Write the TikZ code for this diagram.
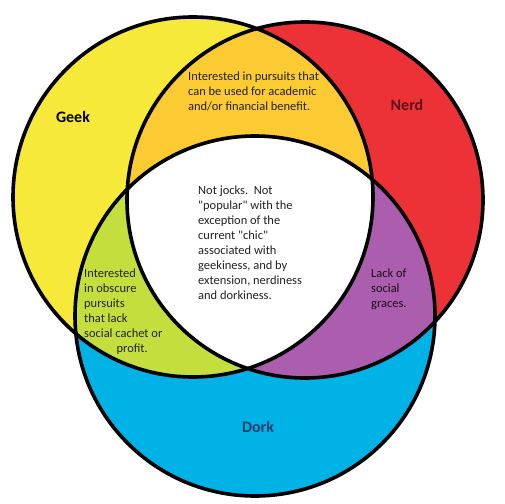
\documentclass[tikz,border=0pt]{standalone}
\usepackage{fontspec}
\setmainfont{Carlito}[Ligatures=TeXOff]
\usetikzlibrary{positioning}
\definecolor{geekfill}{HTML}{F6E93A}
\definecolor{nerdfill}{HTML}{EC3237}
\definecolor{dorkfill}{HTML}{00B2E6}
\definecolor{gnfill}{HTML}{FCCB34}
\definecolor{gdfill}{HTML}{C4DE3E}
\definecolor{ndfill}{HTML}{AB5EAE}
\definecolor{inktext}{HTML}{222222}
\definecolor{nerdink}{HTML}{5E1414}
\definecolor{dorkink}{HTML}{12406E}

\begin{document}
\begin{tikzpicture}[x=1bp, y=-1bp, font=\fontsize{12.5}{15}\selectfont,
  blurb/.style={anchor=north west, align=left, inner sep=0pt, text=inktext},
  setname/.style={font=\fontsize{16}{18}\selectfont\bfseries},
  ring/.style={draw=black, line width=3.6bp}]
\fill[white] (0,0) rectangle (504,504);
\useasboundingbox (0,0) rectangle (504,504);
\coordinate (geekc) at (193,197);
\coordinate (nerdc) at (305,200);
\coordinate (dorkc) at (255,316);
% plain sets
\fill[geekfill] (geekc) circle (180);
\fill[nerdfill] (nerdc) circle (178);
\fill[dorkfill] (dorkc) circle (180);
% pairwise overlaps
\begin{scope}
  \clip (geekc) circle (180);
  \fill[gnfill] (nerdc) circle (178);
  \fill[gdfill] (dorkc) circle (180);
\end{scope}
\begin{scope}
  \clip (nerdc) circle (178);
  \fill[ndfill] (dorkc) circle (180);
\end{scope}
% all three
\begin{scope}
  \clip (geekc) circle (180);
  \clip (nerdc) circle (178);
  \fill[white] (dorkc) circle (180);
\end{scope}
\draw[ring] (geekc) circle (180);
\draw[ring] (nerdc) circle (178);
\draw[ring] (dorkc) circle (180);

\node[setname] (geek) at (73,117) {Geek};
\node[setname, text=nerdink] (nerd) at (407,105) {Nerd};
\node[setname, text=dorkink] (dork) at (258,427) {Dork};

\node[blurb] (gnblurb) at (188,72) {Interested in pursuits that\\can be used for academic\\and/or financial benefit.};
\node[blurb] (allblurb) at (198,186) {Not jocks.\ \ Not\\"popular" with the\\exception of the\\current "chic"\\associated with\\geekiness, and by\\extension, nerdiness\\and dorkiness.};
\node[blurb] (gdblurb) at (84,269) {Interested\\in obscure\\pursuits\\that lack\\social cachet or\\\hspace*{2.6em}profit.};
\node[blurb, text=black!85!ndfill] (ndblurb) at (371,269) {Lack of\\social\\graces.};
\end{tikzpicture}
\end{document}
